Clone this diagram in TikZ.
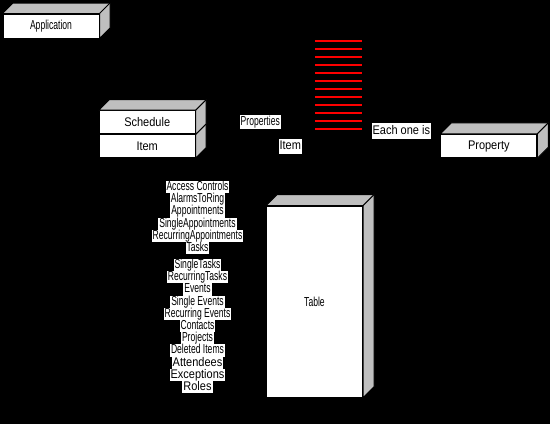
\documentclass[tikz,border=0pt]{standalone}
\usepackage{fontspec}
\setmainfont{Liberation Sans}
\newfontfamily\smallfnt[FakeStretch=0.66]{Liberation Sans}
\newfontfamily\largefnt[FakeStretch=0.88]{Liberation Sans}
\newcommand\cubefaces[2]{%
  \filldraw[face] (#1.north west) -- ++(#2,-#2) -- ([shift={(#2,-#2)}]#1.north east) -- ([shift={(#2,-#2)}]#1.south east) -- (#1.south east) -- (#1.north east) -- cycle;
  \draw[face] (#1.north east) -- ++(#2,-#2);}
\begin{document}
\begin{tikzpicture}[x=1pt,y=-1pt,
  front/.style={draw=black, fill=white, line width=1pt, minimum width=96pt, inner sep=0pt},
  face/.style={draw=black, fill=gray!50, line width=1pt, line join=miter},
  lbl/.style={fill=white, inner xsep=1pt, inner ysep=0.5pt, text height=9pt, text depth=2.3pt, font=\smallfnt\fontsize{13}{13}\selectfont},
  biglbl/.style={lbl, font=\largefnt\fontsize{12.5}{12.5}\selectfont},
  redline/.style={draw=red, line width=2pt}]
\useasboundingbox (0,0) rectangle (550,424);
\fill[black] (0,0) rectangle (550,424);

% Application
\node[front, minimum height=24pt, font=\smallfnt\fontsize{13}{13}\selectfont] (app) at (51,26) {Application};
\cubefaces{app}{10.5}

% Schedule / Item
\node[front, minimum height=23.7pt, font=\largefnt\fontsize{12.5}{12.5}\selectfont] (item) at (147.2,145.9) {Item};
\cubefaces{item}{10.5}
\node[front, minimum height=23.3pt, font=\largefnt\fontsize{12.5}{12.5}\selectfont] (sched) at (147.2,122.3) {Schedule};
\cubefaces{sched}{10.5}

% Property
\node[front, minimum height=23.4pt, font=\largefnt\fontsize{12.5}{12.5}\selectfont] (prop) at (488.8,146) {Property};
\cubefaces{prop}{11}

% Table
\node[front, minimum height=191.3pt, font=\smallfnt\fontsize{13}{13}\selectfont] (table) at (314.5,301.7) {Table};
\cubefaces{table}{11}

% red lines
\foreach \i in {0,...,11}
  \draw[redline] (315,{40.7+8*\i}) -- (362,{40.7+8*\i});

% labels
\node[lbl, minimum height=14.3pt] (properties) at (260.3,122.2) {Properties};
\node[biglbl, minimum height=15pt] (itemlbl) at (290.3,146.5) {Item};
\node[biglbl, minimum height=15.5pt] (each) at (401.3,131.2) {Each one is};

% list
\node[lbl] (l1) at (197.5,187.1) {Access Controls};
\node[lbl] (l2) at (197.5,199.3) {AlarmsToRing};
\node[lbl] (l3) at (197.5,211.5) {Appointments};
\node[lbl] (l4) at (197.5,223.7) {SingleAppointments};
\node[lbl] (l5) at (197.5,235.9) {RecurringAppointments};
\node[lbl] (l6) at (197.5,248.1) {Tasks};
\node[lbl] (l7) at (197.5,265.1) {SingleTasks};
\node[lbl] (l8) at (197.5,277.3) {RecurringTasks};
\node[lbl] (l9) at (197.5,289.5) {Events};
\node[lbl] (l10) at (197.5,301.7) {Single Events};
\node[lbl] (l11) at (197.5,313.9) {Recurring Events};
\node[lbl] (l12) at (197.5,326.1) {Contacts};
\node[lbl] (l13) at (197.5,338.3) {Projects};
\node[lbl] (l14) at (197.5,350.5) {Deleted Items};
\node[biglbl] (l15) at (197.5,362.7) {Attendees};
\node[biglbl] (l16) at (197.5,374.9) {Exceptions};
\node[biglbl] (l17) at (197.5,387.1) {Roles};
\end{tikzpicture}
\end{document}
